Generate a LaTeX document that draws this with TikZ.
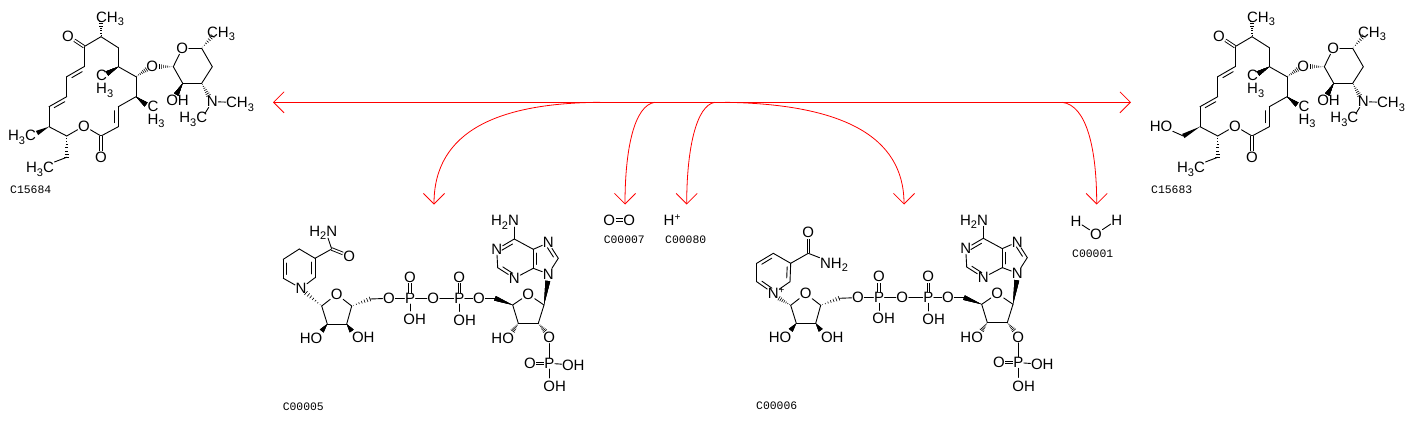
\documentclass[tikz,border=0pt]{standalone}
\usepackage{fontspec}
\setsansfont{Liberation Sans}
\setmonofont{Liberation Mono}
\usetikzlibrary{calc}
\usetikzlibrary{arrows.meta}
\tikzset{every picture/.style={/utils/exec={\sffamily}}}
\tikzset{
  atom/.style={inner sep=0.4pt, font=\fontsize{15}{12.6}\selectfont},
  bond/.style={line width=0.9pt, line cap=round},
  dbl/.style={bond, double, double distance=1.6pt, line cap=butt},
  rxn/.style={red, line width=0.8pt, >={Straight Barb[length=10.5pt,width=21pt]}},
  codelabel/.style={inner sep=0pt, font=\fontsize{11.4}{11.4}\ttfamily}
}
\newcommand{\nsub}[1]{\raisebox{-3.5pt}[0pt][0pt]{\fontsize{11}{11}\selectfont #1}}
\newcommand{\nsup}[1]{\raisebox{5pt}[0pt][0pt]{\fontsize{10}{10}\selectfont #1}}
% ring double bond: second line on side #3 (90 or -90)
\newcommand{\dbond}[3]{
  \draw[bond] (#1) -- (#2);
  \draw[bond] ($(#1)!.2!(#2)!3.4pt!#3:(#2)$) -- ($(#1)!.8!(#2)!3.4pt!#3:(#2)$);
}
\newcommand{\wedgebond}[2]{
  \fill ($(#2)!2.4pt!90:(#1)$) -- (#1) -- ($(#2)!2.4pt!-90:(#1)$) -- cycle;
}
\newcommand{\hashbond}[2]{
  \foreach \f in {.1,.25,...,1}
    \draw[line width=0.6pt] ($(#1)!\f!(#2)!\f*2.4pt!90:(#1)$) -- ($(#1)!\f!(#2)!\f*2.4pt!-90:(#1)$);
}
% ring shared by C15684 and C15683
\newcommand{\macrolide}{
  \foreach \n/\x/\y in {ca/101/36.7, cb/84/46.7, cc/118.3/47.7, cd/118.3/66.7, ce/136/76.7,
    cf/136/96.7, cg/118.3/106.7, ch/118.3/126.7, ci/101/136, cj/66.7/136, ck/49/126.7,
    cl/49/106.7, cm/66.7/96.7, cn/66.7/76.7, co/84/66.7, cq/66.7/157.3,
    sa/173.3/66.7, sb/182.7/83.3, sc/201.7/83.3, sd/212.3/66.7, se/201.7/48.3,
    wa/101/21.5, wb/107/73.5, wc/146/104.5, wd/146.5/69.5, we/159.5/66.5,
    wf/212.5/36, wg/176.3/94.5, wh/208.5/95.5, wj/205.5/112.5}
    \coordinate (\n) at (\x,\y);
  \foreach \n/\x/\y/\t in {ok/68/36/O, oc/152.3/66/O, os/182.3/48.3/O, ol/84/126/O, ox/101/157/O,
    ma/110/17/{CH\nsub{3}}, mb/221/32/{CH\nsub{3}}, mg/240/102.5/{CH\nsub{3}}, mh/193.3/117.5/{H\nsub{3}C},
    mi/40/167.5/{H\nsub{3}C}, oh/177.5/100.7/OH, nn/212.3/101.7/N}
    \node[atom] (\n) at (\x,\y) {\t};
  \node[atom, align=left] (mc) at (104.7,82) {C\\H\nsub{3}};
  \node[atom, align=left] (me) at (156,112.5) {C\\H\nsub{3}};
  \foreach \a/\b in {cb/ca, ca/cc, cc/cd, cd/ce, ce/cf, cf/cg, ch/ci, ci/ol, ol/cj, cj/ck, ck/cl,
    cm/cn, co/cb, cq/mi, sa/os, os/se, se/sd, sd/sc, sc/sb, sb/sa, nn/mg, nn/wj}
    \draw[bond] (\a) -- (\b);
  \draw[dbl] (cb) -- (ok);
  \draw[dbl] (ci) -- (ox);
  \dbond{co}{cn}{90}
  \dbond{cm}{cl}{90}
  \dbond{cg}{ch}{-90}
  \foreach \a/\b in {ca/wa, ce/wd, sa/we, se/wf, sc/wh, cj/cq}
    \hashbond{\a}{\b}
  \foreach \a/\b in {cd/wb, cf/wc, sb/wg}
    \wedgebond{\a}{\b}
}
% ribose, phosphates and adenine shared by C00005 and C00006
\newcommand{\adpribose}{
  \foreach \n/\x/\y in {ra/321.7/306, rb/327.3/324, rc/346.7/324, rd/351.7/306,
    qa/512.7/305, qb/544/305, qc/538.3/323.3, qd/518.3/323.3,
    ua/321.7/331, ub/351.7/331, uc/370/299, ud/495/298.3, ue/512.7/331, uf/545/331,
    ea/410/311, eb/459.3/311.5, ec/549.3/378, un/547.8/281, en/514.3/227,
    cd/533.3/268.3, ce/533.3/249.3, cf/514.3/239, ch/558.3/258.3, ci/497.7/267.7}
    \coordinate (\n) at (\x,\y);
  \foreach \n/\x/\y/\t in {ro/336.7/294.3/O, qo/528.3/294.3/O, oa/389/298.3/O, ob/433.3/298.3/O,
    oc/479/298.3/O, pa/410/298.3/P, pb/459.3/298.3/P, pc/549.3/363.3/P, ta/410/277.3/O,
    tb/459.3/277.3/O, tc/530/363.3/O, od/549.3/337.7/O, ha/414.7/319.3/OH, hb/464.7/320/OH,
    hc/573.3/365/OH, hd/554.7/386.7/OH, he/311/338.3/HO, hf/363.3/337.7/OH, hg/502.7/338.3/HO,
    na/548.3/274/N, nb/548.3/242.7/N, nc/514.3/278.3/N, nd/496.7/249.3/N,
    ne/505/220.7/{H\nsub{2}N}}
    \node[atom] (\n) at (\x,\y) {\t};
  \foreach \a/\b in {ra/ro, ro/rd, rd/rc, rc/rb, rb/ra, uc/oa, oa/pa, pa/ob, ob/pb, pb/oc, oc/ud,
    qa/qo, qo/qb, qb/qc, qc/qd, qd/qa, pa/ea, pb/eb, pc/ec, od/pc, pc/hc,
    ce/nb, ch/na, na/cd, cd/nc, nd/ci, cf/ce, cf/en}
    \draw[bond] (\a) -- (\b);
  \draw[dbl] (pa) -- (ta);
  \draw[dbl] (pb) -- (tb);
  \draw[dbl] (pc) -- (tc);
  \dbond{ci}{nc}{90}
  \dbond{nd}{cf}{-90}
  \dbond{cd}{ce}{-90}
  \dbond{ch}{nb}{90}
  \foreach \a/\b in {rd/uc, qd/ue, qc/uf}
    \hashbond{\a}{\b}
  \foreach \a/\b in {rb/ua, rc/ub, qa/ud, qb/un}
    \wedgebond{\a}{\b}
}
\begin{document}
\begin{tikzpicture}[x=1pt, y=-1pt]
  \useasboundingbox (0,0) rectangle (1414,421);

  % C15684
  \begin{scope}[name prefix=left-]
    \macrolide
    \coordinate (wk) at (37,133);
    \wedgebond{ck}{wk}
    \node[atom] (mk) at (22,135.8) {H\nsub{3}C};
  \end{scope}
  \node[codelabel] (c15684) at (30.7,189.5) {C15684};

  % C15683
  \begin{scope}[shift={(1151,0)}, name prefix=right-]
    \macrolide
    \coordinate (wk) at (32.3,136);
    \node[atom] (mk) at (10,126) {HO};
    \wedgebond{ck}{wk}
    \draw[bond] (wk) -- (mk);
  \end{scope}
  \node[codelabel] (c15683) at (1171.7,189.5) {C15683};

  % C00005
  \begin{scope}[name prefix=nadh-]
    \adpribose
    \foreach \n/\x/\y in {ba/331.7/249, bb/315/258.3, bc/299.3/249, bd/283.3/259.3, be/283.3/278.3,
      bf/315/277.7, bg/328/238, bn/306/293}
      \coordinate (\n) at (\x,\y);
    \node[atom] (nn) at (301,288.3) {N};
    \node[atom] (bo) at (349.3,256) {O};
    \node[atom] (bh) at (323.3,231) {H\nsub{2}N};
    \foreach \a/\b in {bb/ba, ba/bg, bb/bc, bc/bd, be/nn, nn/bf}
      \draw[bond] (\a) -- (\b);
    \draw[dbl] (ba) -- (bo);
    \dbond{bd}{be}{90}
    \dbond{bb}{bf}{-90}
    \hashbond{ra}{bn}
  \end{scope}
  \node[codelabel] (c00005) at (303.3,406.5) {C00005};

  % C00006
  \begin{scope}[shift={(469,-0.7)}, name prefix=nadp-]
    \adpribose
    \foreach \n/\x/\y in {ba/339.3/254, bb/321.7/264, bc/304.3/254, bd/287.7/264, be/287.7/282.4,
      bf/321/282.4, bn/310/299}
      \coordinate (\n) at (\x,\y);
    \node[atom] (nn) at (304.3,294) {N\rlap{\nsup{+}}};
    \node[atom] (bo) at (339.3,233.4) {O};
    \node[atom] (bh) at (365,264) {NH\nsub{2}};
    \foreach \a/\b in {bb/ba, ba/bh, bb/bc, bd/be, bf/nn}
      \draw[bond] (\a) -- (\b);
    \draw[dbl] (ba) -- (bo);
    \dbond{bc}{bd}{90}
    \dbond{be}{nn}{90}
    \dbond{bb}{bf}{-90}
    \hashbond{ra}{bn}
  \end{scope}
  \node[codelabel] (c00006) at (776.7,406) {C00006};

  % small molecules
  \node[atom] (oa) at (609.3,220) {O};
  \node[atom] (ob) at (629.3,220) {O};
  \draw[dbl] (oa) -- (ob);
  \node[codelabel] (c00007) at (624.3,240) {C00007};
  \node[atom] (hp) at (672,220) {H\nsup{+}};
  \node[codelabel] (c00080) at (685.7,240) {C00080};
  \node[atom] (hl) at (1076,221) {H};
  \node[atom] (wo) at (1096,234) {O};
  \node[atom] (hr) at (1116.7,220) {H};
  \draw[bond] (hl) -- (wo);
  \draw[bond] (wo) -- (hr);
  \node[codelabel] (c00001) at (1092.7,254) {C00001};

  % reaction arrows
  \foreach \n/\x/\y in {ml/273/102.3, mr/1131/102.3, sa/600/102.3, sb/655/102.3, sc/715/102.3,
    sd/725/102.3, se/1062/102.3, ta/434/204.5, tb/625/204.5, tc/686.7/204.5, td/904/204.5, te/1096.7/204.5}
    \coordinate (\n) at (\x,\y);
  \draw[rxn, <->] (ml) -- (mr);
  \draw[rxn, ->] (sa) .. controls (500,103) and (434,130) .. (ta);
  \draw[rxn, ->] (sb) .. controls (634,105) and (625,150) .. (tb);
  \draw[rxn, ->] (sc) .. controls (696,105) and (686.7,150) .. (tc);
  \draw[rxn, ->] (sd) .. controls (840,104) and (904,135) .. (td);
  \draw[rxn, ->] (se) .. controls (1087,105) and (1096.7,150) .. (te);
\end{tikzpicture}
\end{document}
